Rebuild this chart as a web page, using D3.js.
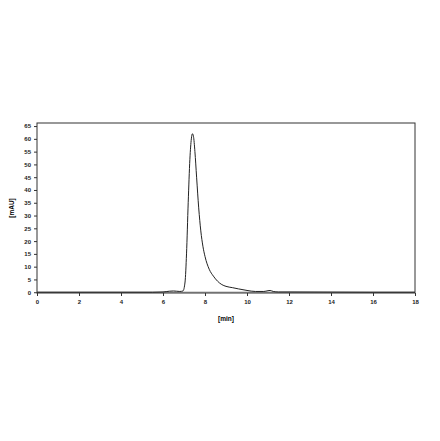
<!DOCTYPE html>
<html><head><meta charset="utf-8">
<script src="https://cdn.jsdelivr.net/npm/d3@7"></script>
<style>body{margin:0;background:#fff}text{font-family:"Liberation Sans",Arial,sans-serif;font-weight:bold}</style>
</head><body><div id="chart"></div>
<script>
// retention time (min) and absorbance (mAU)
const times = [0, 2, 4, 5.5, 6.0, 6.3, 6.5, 6.8, 6.95, 7.05, 7.12, 7.2, 7.28, 7.35, 7.4, 7.45, 7.52, 7.6, 7.7, 7.8, 7.9, 8.0, 8.2, 8.4, 8.6, 8.8, 9.0, 9.3, 9.6, 10.0, 10.4, 10.8, 11.0, 11.1, 11.25, 11.5, 12, 14, 16, 18];
const mau   = [0, 0, 0, 0, 0.1, 0.4, 0.5, 0.3, 0.5, 4, 15, 35, 52, 60, 62, 61, 55, 45, 33, 24, 18, 14, 9, 6.3, 4.3, 3.0, 2.3, 1.8, 1.3, 0.7, 0.3, 0.3, 0.6, 0.7, 0.3, 0.1, 0.1, 0.05, 0, 0];
const xTicks = d3.range(0, 19, 2);
const yTicks = d3.range(0, 66, 5);

const width = 440, height = 441;
const m = {left: 37, right: 25, top: 123, bottom: 148};
const svg = d3.select('#chart').append('svg').attr('width', width).attr('height', height);

const x = d3.scaleLinear().domain([0, 18]).range([m.left, width - m.right]);
const y = d3.scaleLinear().domain([-0.3, 66.2]).range([height - m.bottom, m.top]);

svg.append('rect')
  .attr('x', m.left).attr('y', m.top)
  .attr('width', width - m.left - m.right).attr('height', height - m.top - m.bottom)
  .attr('fill', 'none').attr('stroke', '#333').attr('stroke-width', 1);

// baseline
svg.append('line').attr('x1', m.left).attr('x2', width - m.right)
  .attr('y1', y(0)).attr('y2', y(0)).attr('stroke', '#555').attr('stroke-width', 0.8);

const xAxis = svg.append('g').attr('transform', `translate(0,${height - m.bottom})`)
  .call(d3.axisBottom(x).tickValues(xTicks).tickSize(3).tickFormat(d3.format('d')));
const yAxis = svg.append('g').attr('transform', `translate(${m.left},0)`)
  .call(d3.axisLeft(y).tickValues(yTicks).tickSize(3).tickFormat(d3.format('d')));
[xAxis, yAxis].forEach(g => {
  g.select('.domain').remove();
  g.selectAll('line').attr('stroke', '#333');
  g.selectAll('text').attr('font-size', 6).attr('fill', '#222');
});
xAxis.selectAll('text').attr('dy', '0.9em');

svg.append('path').datum(times.map((t, i) => [t, mau[i]]))
  .attr('fill', 'none').attr('stroke', '#222').attr('stroke-width', 1)
  .attr('d', d3.line().x(d => x(d[0])).y(d => y(d[1])).curve(d3.curveMonotoneX));

svg.append('text').attr('x', (m.left + width - m.right) / 2).attr('y', 321)
  .attr('text-anchor', 'middle').attr('font-size', 6.5).text('[min]');
svg.append('text').attr('transform', `translate(14,${(m.top + height - m.bottom) / 2}) rotate(-90)`)
  .attr('text-anchor', 'middle').attr('font-size', 6.5).text('[mAU]');
</script></body></html>
